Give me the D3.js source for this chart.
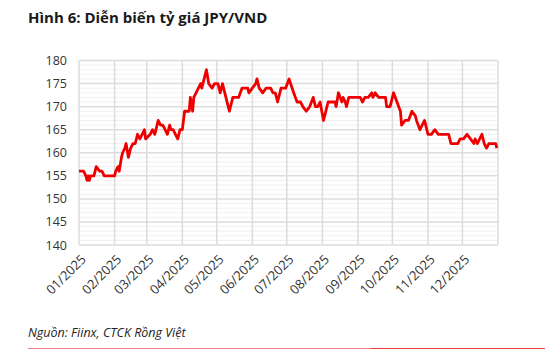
<!DOCTYPE html>
<html>
<head>
<meta charset="utf-8">
<script src="https://cdn.jsdelivr.net/npm/d3@7"></script>
<style>
  html, body { margin: 0; padding: 0; background: #fff; }
  svg { display: block; }
</style>
</head>
<body>
<svg id="chart" width="545" height="349"></svg>
<script>
// JPY/VND exchange rate, 2025
const dates = [
  "2025-01-01","2025-01-05","2025-01-07","2025-01-08","2025-01-09","2025-01-10","2025-01-11","2025-01-14",
  "2025-01-16","2025-01-19","2025-01-21","2025-01-23","2025-02-01","2025-02-02","2025-02-04","2025-02-05",
  "2025-02-07","2025-02-08","2025-02-10","2025-02-11","2025-02-13","2025-02-15","2025-02-17","2025-02-19",
  "2025-02-21","2025-02-23","2025-02-25","2025-02-27","2025-02-28","2025-03-04","2025-03-06","2025-03-08",
  "2025-03-10","2025-03-11","2025-03-13","2025-03-15","2025-03-17","2025-03-19","2025-03-21","2025-03-22",
  "2025-03-24","2025-03-26","2025-03-28","2025-03-30","2025-04-01","2025-04-03","2025-04-07","2025-04-08",
  "2025-04-10","2025-04-11","2025-04-13","2025-04-15","2025-04-17","2025-04-18","2025-04-20","2025-04-22",
  "2025-04-24","2025-04-27","2025-04-29","2025-05-02","2025-05-04","2025-05-06","2025-05-09","2025-05-12",
  "2025-05-15","2025-05-18","2025-05-20","2025-05-23","2025-05-28","2025-05-29","2025-06-01","2025-06-04",
  "2025-06-05","2025-06-07","2025-06-10","2025-06-13","2025-06-17","2025-06-19","2025-06-21","2025-06-23",
  "2025-06-26","2025-06-30","2025-07-03","2025-07-07","2025-07-10","2025-07-13","2025-07-15","2025-07-18",
  "2025-07-21","2025-07-24","2025-07-26","2025-07-28","2025-07-30","2025-08-02","2025-08-04","2025-08-06",
  "2025-08-12","2025-08-13","2025-08-15","2025-08-18","2025-08-19","2025-08-21","2025-08-22","2025-08-24",
  "2025-09-03","2025-09-05","2025-09-07","2025-09-10","2025-09-13","2025-09-14","2025-09-16","2025-09-19",
  "2025-09-25","2025-09-26","2025-09-29","2025-10-02","2025-10-05","2025-10-08","2025-10-09","2025-10-12",
  "2025-10-15","2025-10-18","2025-10-21","2025-10-22","2025-10-25","2025-10-29","2025-11-01","2025-11-04",
  "2025-11-07","2025-11-10","2025-11-12","2025-11-19","2025-11-21","2025-11-27","2025-11-29","2025-12-02",
  "2025-12-05","2025-12-08","2025-12-11","2025-12-12","2025-12-14","2025-12-18","2025-12-20","2025-12-22",
  "2025-12-24","2025-12-30","2025-12-31"
];
const rates = [
  156,156,155,154,155,154,155,155,
  157,156,156,155,155,156,157,156,
  159,160,161,162,159,161,162,162,
  164,163,164,165,163,164,165,164,
  166,167,166,166,165,164,166,165,
  165,164,163,165,165,169,169,172,
  169,172,173,174,175,174,176,178,
  175,174,175,175,173,175,172,169,
  172,172,172,174,174,173,174,175,
  176,174,173,174,174,173,173,171,
  174,174,176,173,171,171,170,169,
  170,172,170,170,171,167,169,171,
  171,170,173,171,172,171,170,172,
  172,171,172,172,173,172,173,172,
  172,170,170,173,171,169,166,167,
  167,169,168,167,165,167,164,164,
  165,164,164,164,162,162,163,163,
  164,163,162,163,162,164,162,161,
  162,162,161
];
const monthTicks = ["01/2025","02/2025","03/2025","04/2025","05/2025","06/2025",
                    "07/2025","08/2025","09/2025","10/2025","11/2025","12/2025"];
const yTicks = [140,145,150,155,160,165,170,175,180];

const title = "Hình 6: Diễn biến tỷ giá JPY/VND";
const source = "Nguồn: Fiinx, CTCK Rồng Việt";

const parse = d3.timeParse("%Y-%m-%d");
const series = dates.map((d, i) => ({ date: parse(d), value: rates[i] }));
const monthDates = monthTicks.map(m => d3.timeParse("%m/%Y")(m));

const svg = d3.select("#chart");
const plot = { left: 79, right: 498, top: 60.5, bottom: 245 };

const x = d3.scaleTime()
  .domain([new Date(2025, 0, 1), new Date(2026, 0, 1)])
  .range([plot.left, plot.right]);
const y = d3.scaleLinear()
  .domain([140, 180])
  .range([plot.bottom, plot.top]);

// Title
svg.append("text")
  .attr("x", 28).attr("y", 23)
  .attr("font-family", "'Open Sans', sans-serif")
  .attr("font-weight", "bold")
  .attr("font-size", 15)
  .attr("fill", "#1a1a1a")
  .text(title);

// Minor horizontal gridlines, one per unit
const g = svg.append("g");
g.selectAll("line.minor")
  .data(d3.range(140, 181, 1).filter(v => v % 5 !== 0))
  .join("line")
  .attr("x1", plot.left).attr("x2", plot.right)
  .attr("y1", d => y(d)).attr("y2", d => y(d))
  .attr("stroke", "#f0f0f0").attr("stroke-width", 1);

// Major horizontal gridlines
g.selectAll("line.major")
  .data(yTicks)
  .join("line")
  .attr("x1", plot.left).attr("x2", plot.right)
  .attr("y1", d => y(d)).attr("y2", d => y(d))
  .attr("stroke", "#dcdcdc").attr("stroke-width", 1.5);

// Vertical gridlines at each month start and the right edge
g.selectAll("line.month")
  .data(monthDates.concat([new Date(2026, 0, 1)]))
  .join("line")
  .attr("x1", d => x(d)).attr("x2", d => x(d))
  .attr("y1", plot.top).attr("y2", plot.bottom)
  .attr("stroke", "#dcdcdc").attr("stroke-width", 1.5);

// Y axis labels
const yAxis = svg.append("g")
  .attr("transform", `translate(${plot.left - 12},0)`)
  .call(d3.axisLeft(y).tickValues(yTicks).tickSize(0).tickPadding(0));
yAxis.select(".domain").remove();
yAxis.selectAll("text")
  .attr("font-family", "'Open Sans', sans-serif")
  .attr("font-size", 12.5)
  .attr("fill", "#333");

// X axis labels, rotated
const xAxis = svg.append("g")
  .attr("transform", `translate(0,${plot.bottom + 12})`)
  .call(d3.axisBottom(x).tickValues(monthDates).tickFormat(d3.timeFormat("%m/%Y")).tickSize(0).tickPadding(0));
xAxis.select(".domain").remove();
xAxis.selectAll("text")
  .attr("font-family", "'Open Sans', sans-serif")
  .attr("font-size", 13)
  .attr("fill", "#333")
  .attr("text-anchor", "end")
  .attr("dy", "0.35em")
  .attr("transform", "translate(4,0) rotate(-45)");

// Rate line
svg.append("path")
  .datum(series)
  .attr("fill", "none")
  .attr("stroke", "#ee0000")
  .attr("stroke-width", 2.8)
  .attr("stroke-linejoin", "round")
  .attr("d", d3.line().x(d => x(d.date)).y(d => y(d.value)));

// Source note
svg.append("text")
  .attr("x", 28).attr("y", 337)
  .attr("font-family", "'Open Sans', sans-serif")
  .attr("font-style", "italic")
  .attr("font-size", 12.5)
  .attr("fill", "#222")
  .text(source);

// Footer rule
svg.append("line")
  .attr("x1", 28).attr("x2", 371).attr("y1", 348.5).attr("y2", 348.5)
  .attr("stroke", "#f47c7c").attr("stroke-width", 1);
svg.append("line")
  .attr("x1", 371).attr("x2", 545).attr("y1", 348.5).attr("y2", 348.5)
  .attr("stroke", "#e83a3a").attr("stroke-width", 1);
</script>
</body>
</html>
